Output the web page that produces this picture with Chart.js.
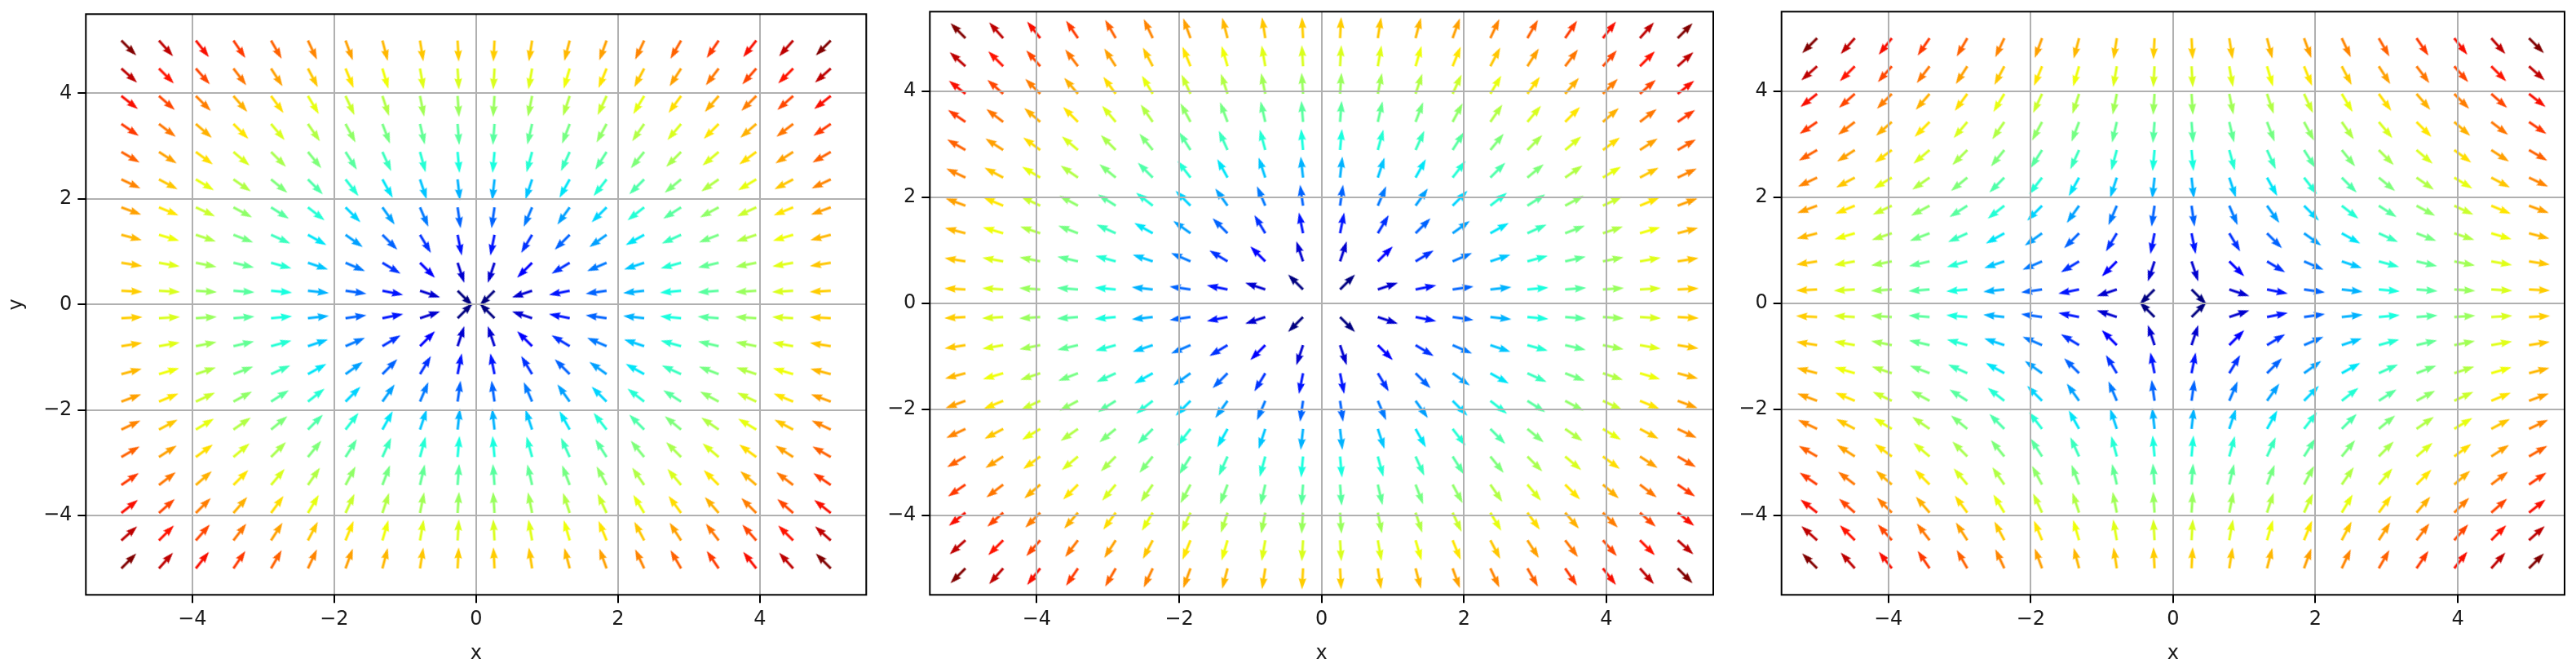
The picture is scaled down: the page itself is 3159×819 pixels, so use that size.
<!DOCTYPE html>
<html><head><meta charset="utf-8">
<script src="https://cdn.jsdelivr.net/npm/chart.js@4"></script>
<style>html,body{margin:0;padding:0;background:#fff;width:3159px;height:819px;overflow:hidden}
canvas{position:absolute;top:0}</style></head><body>
<script>
// Grid positions of the arrow tails
const gridValues = [-5,-4.47,-3.95,-3.42,-2.89,-2.37,-1.84,-1.32,-0.79,-0.26,0.26,0.79,1.32,1.84,2.37,2.89,3.42,3.95,4.47,5];
const tickValues = [-4,-2,0,2,4];
// One quadrant of the field (the four quadrants mirror it); rows: |y| rising, columns: |x| rising
const speedQuadrant = [
 [0.37,0.83,1.34,1.86,2.38,2.91,3.43,3.96,4.48,5.01],
 [0.83,1.12,1.53,2.00,2.50,3.00,3.51,4.03,4.54,5.06],
 [1.34,1.53,1.86,2.26,2.71,3.18,3.67,4.16,4.66,5.17],
 [1.86,2.00,2.26,2.60,3.00,3.43,3.89,4.36,4.84,5.33],
 [2.38,2.50,2.71,3.00,3.35,3.74,4.16,4.60,5.06,5.53],
 [2.91,3.00,3.18,3.43,3.74,4.09,4.48,4.90,5.33,5.78],
 [3.43,3.51,3.67,3.89,4.16,4.48,4.84,5.22,5.63,6.06],
 [3.96,4.03,4.16,4.36,4.60,4.90,5.22,5.58,5.97,6.37],
 [4.48,4.54,4.66,4.84,5.06,5.33,5.63,5.97,6.33,6.71],
 [5.01,5.06,5.17,5.33,5.53,5.78,6.06,6.37,6.71,7.07]];
// Arrow inclination from the x axis, degrees
const angleQuadrant = [
 [45,18.4,11.3,8.1,6.3,5.2,4.4,3.8,3.4,3.0],
 [71.6,45,31.0,23.2,18.4,15.3,13.0,11.3,10.0,9.0],
 [78.7,59.0,45,35.5,29.1,24.4,21.0,18.4,16.4,14.7],
 [81.9,66.8,54.5,45,37.9,32.5,28.3,25.0,22.4,20.2],
 [83.7,71.6,60.9,52.1,45,39.3,34.7,31.0,27.9,25.3],
 [84.8,74.7,65.6,57.5,50.7,45,40.2,36.3,32.9,30.1],
 [85.6,77.0,69.0,61.7,55.3,49.8,45,40.9,37.4,34.4],
 [86.2,78.7,71.6,65.0,59.0,53.7,49.1,45,41.4,38.3],
 [86.6,80.0,73.6,67.6,62.1,57.1,52.6,48.6,45,41.8],
 [87.0,81.0,75.3,69.8,64.7,59.9,55.6,51.7,48.2,45]];
// Outward (+1) or inward (-1) along each axis, one entry per panel
const panelSignX = [-1, 1, 1];
const panelSignY = [-1, 1, -1];
const yTitles = ['y', '', ''];
const xTitle = 'x';
const speedMin = 0.37, speedMax = 7.07;

const frames = [
 {left:105.3, right:1062.3, top:17.3, bottom:729.3},
 {left:1140.3, right:2101, top:14.3, bottom:729.3},
 {left:2184.7, right:3145, top:14.3, bottom:729.3}];
const jetR = [[0,0],[.35,0],[.66,1],[.89,1],[1,.5]];
const jetG = [[0,0],[.125,0],[.375,1],[.64,1],[.91,0],[1,0]];
const jetB = [[0,.5],[.11,1],[.34,1],[.65,0],[1,0]];
function lerp(stops,t){
  for(let i=1;i<stops.length;i++) if(t<=stops[i][0]){
    const [a,b]=[stops[i-1],stops[i]];
    return a[1]+(b[1]-a[1])*(t-a[0])/(b[0]-a[0]);
  }
  return stops[stops.length-1][1];
}
function jet(t){return `rgb(${Math.round(lerp(jetR,t)*255)},${Math.round(lerp(jetG,t)*255)},${Math.round(lerp(jetB,t)*255)})`;}

// Arrow sprite: tail at the sprite centre, pointing along +x
const sprites = {};
function arrowSprite(color){
  if(sprites[color]) return sprites[color];
  const c=document.createElement('canvas'); c.width=64; c.height=64;
  const g=c.getContext('2d'); g.translate(32,32); g.fillStyle=color;
  const L=26,sw=1.5,hw=4.8,hl=14,ha=12.6;
  g.beginPath(); g.moveTo(0,-sw); g.lineTo(L-ha,-sw); g.lineTo(L-hl,-hw); g.lineTo(L,0);
  g.lineTo(L-hl,hw); g.lineTo(L-ha,sw); g.lineTo(0,sw); g.closePath(); g.fill();
  return sprites[color]=c;
}
const framePlugin={id:'frame',afterDraw(chart){
  const {left,right,top,bottom}=chart.chartArea, g=chart.ctx;
  g.save(); g.strokeStyle='#000'; g.lineWidth=2; g.strokeRect(left,top,right-left,bottom-top); g.restore();
}};
function fmt(v){return v<0?'\u2212'+Math.abs(v):String(v);}
const FONT={family:'"DejaVu Sans"',size:24};

frames.forEach((f,p)=>{
  const cl=Math.round(f.left)-105, cw=Math.ceil(f.right-cl)+10;
  const cv=document.createElement('canvas');
  cv.style.left=cl+'px'; cv.style.width=cw+'px'; cv.style.height='819px';
  cv.width=cw; cv.height=819;
  document.body.appendChild(cv);
  const pts=[];
  gridValues.forEach((y,j)=>gridValues.forEach((x,i)=>{
    const qi=i<10?9-i:i-10, qj=j<10?9-j:j-10;
    const a=angleQuadrant[qj][qi]*Math.PI/180;
    const u=panelSignX[p]*Math.sign(x)*Math.cos(a), v=panelSignY[p]*Math.sign(y)*Math.sin(a);
    pts.push({x,y,rot:Math.atan2(-v,u)*180/Math.PI,speed:speedQuadrant[qj][qi]});
  }));
  const axis=(title,isY)=>({
    type:'linear',min:-5.5,max:5.5,
    afterBuildTicks(s){s.ticks=tickValues.map(value=>({value}));},
    afterFit(s){
      if(isY) s.width=f.left-cl; else s.height=819-f.bottom;
      s.paddingTop=s.paddingBottom=s.paddingLeft=s.paddingRight=0;
    },
    grid:{color:'#b0b0b0',lineWidth:2,z:1,tickLength:10,tickColor:'#000',tickWidth:2,drawTicks:true},
    border:{display:false},
    ticks:{color:'#1a1a1a',font:FONT,padding:isY?7:6,maxRotation:0,autoSkip:false,callback:v=>fmt(v)},
    title:{display:!!title,text:title,color:'#1a1a1a',font:FONT,padding:isY?{top:6,bottom:0}:{top:0,bottom:3}}
  });
  new Chart(cv,{type:'scatter',
    data:{datasets:[{data:pts,showLine:false,
      pointRadius:3,pointHoverRadius:3,borderWidth:0,
      pointStyle:c=>arrowSprite(jet((c.raw.speed-speedMin)/(speedMax-speedMin))),
      rotation:c=>c.raw.rot}]},
    options:{responsive:false,animation:false,devicePixelRatio:1,
      layout:{padding:{top:f.top,right:cl+cw-f.right,left:0,bottom:0}},
      plugins:{legend:{display:false},tooltip:{enabled:false},title:{display:false}},
      scales:{x:axis(xTitle,false),y:axis(yTitles[p],true)}},
    plugins:[framePlugin]});
});
</script></body></html>
